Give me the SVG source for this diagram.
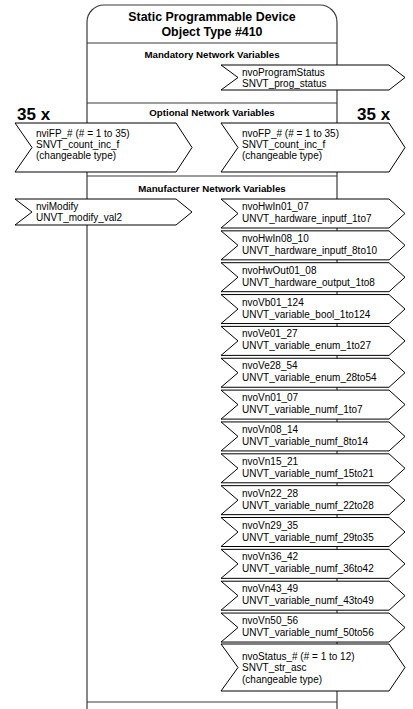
<svg xmlns="http://www.w3.org/2000/svg" width="413" height="709" viewBox="0 0 413 709">
<style>
.frame{fill:none;stroke:#3a3a3a;stroke-width:1.2}
.nv{fill:#fff;stroke:#000;stroke-width:1}
.t{font-family:"Liberation Sans",Arial,sans-serif;font-size:10px;fill:#000}
.h{font-family:"Liberation Sans",Arial,sans-serif;font-size:9.7px;font-weight:bold;fill:#000;text-anchor:middle}
.title{font-family:"Liberation Sans",Arial,sans-serif;font-size:12.4px;font-weight:bold;fill:#000;text-anchor:middle}
.big{font-family:"Liberation Sans",Arial,sans-serif;font-size:17px;font-weight:bold;fill:#000}
</style>
<g id="object-frame">
<path class="frame" d="M87,709 V22 A17,17 0 0 1 104,5 H320 A17,17 0 0 1 337,22 V709"/>
<line class="frame" x1="87" y1="43" x2="337" y2="43"/>
<line class="frame" x1="87" y1="103" x2="337" y2="103"/>
<line class="frame" x1="87" y1="176" x2="337" y2="176"/>
<line class="frame" x1="87" y1="702" x2="337" y2="702"/>
<text class="title" x="212" y="20.5">Static Programmable Device</text>
<text class="title" x="212" y="36">Object Type #410</text>
<text class="h" x="212" y="57.5">Mandatory Network Variables</text>
<text class="h" x="212" y="116">Optional Network Variables</text>
<text class="h" x="212" y="192">Manufacturer Network Variables</text>
<text class="big" x="17" y="120">35 x</text>
<text class="big" x="357" y="120">35 x</text>
</g>
<g id="connectors"></g>
<g id="nvoProgramStatus"><polygon class="nv" points="221,65 389,65 405,77.5 389,90 221,90 238,77.5"/><text class="t" x="242" y="75.5">nvoProgramStatus</text><text class="t" x="242" y="87">SNVT_prog_status</text></g>
<g id="nviFP"><polygon class="nv" points="15,123 176,123 192,147.5 176,172 15,172 32,147.5"/><text class="t" x="36" y="137">nviFP_# (# = 1 to 35)</text><text class="t" x="36" y="148">SNVT_count_inc_f</text><text class="t" x="36" y="159">(changeable type)</text></g>
<g id="nvoFP"><polygon class="nv" points="221,123 389,123 405,147.5 389,172 221,172 238,147.5"/><text class="t" x="242" y="137">nvoFP_# (# = 1 to 35)</text><text class="t" x="242" y="148">SNVT_count_inc_f</text><text class="t" x="242" y="159">(changeable type)</text></g>
<g id="nviModify"><polygon class="nv" points="15,199 176,199 192,212 176,225 15,225 32,212"/><text class="t" x="36" y="209.5">nviModify</text><text class="t" x="36" y="221">UNVT_modify_val2</text></g>
<g id="nvoHwIn01_07"><polygon class="nv" points="221,199 389,199 405,213.5 389,228 221,228 238,213.5"/><text class="t" x="242" y="210">nvoHwIn01_07</text><text class="t" x="242" y="222">UNVT_hardware_inputf_1to7</text></g>
<g id="nvoHwIn08_10"><polygon class="nv" points="221,230.85 389,230.85 405,245.35 389,259.85 221,259.85 238,245.35"/><text class="t" x="242" y="241.85">nvoHwIn08_10</text><text class="t" x="242" y="253.85">UNVT_hardware_inputf_8to10</text></g>
<g id="nvoHwOut01_08"><polygon class="nv" points="221,262.7 389,262.7 405,277.2 389,291.7 221,291.7 238,277.2"/><text class="t" x="242" y="273.7">nvoHwOut01_08</text><text class="t" x="242" y="285.7">UNVT_hardware_output_1to8</text></g>
<g id="nvoVb01_124"><polygon class="nv" points="221,294.55 389,294.55 405,309.05 389,323.55 221,323.55 238,309.05"/><text class="t" x="242" y="305.55">nvoVb01_124</text><text class="t" x="242" y="317.55">UNVT_variable_bool_1to124</text></g>
<g id="nvoVe01_27"><polygon class="nv" points="221,326.4 389,326.4 405,340.9 389,355.4 221,355.4 238,340.9"/><text class="t" x="242" y="337.4">nvoVe01_27</text><text class="t" x="242" y="349.4">UNVT_variable_enum_1to27</text></g>
<g id="nvoVe28_54"><polygon class="nv" points="221,358.25 389,358.25 405,372.75 389,387.25 221,387.25 238,372.75"/><text class="t" x="242" y="369.25">nvoVe28_54</text><text class="t" x="242" y="381.25">UNVT_variable_enum_28to54</text></g>
<g id="nvoVn01_07"><polygon class="nv" points="221,390.1 389,390.1 405,404.6 389,419.1 221,419.1 238,404.6"/><text class="t" x="242" y="401.1">nvoVn01_07</text><text class="t" x="242" y="413.1">UNVT_variable_numf_1to7</text></g>
<g id="nvoVn08_14"><polygon class="nv" points="221,421.95 389,421.95 405,436.45 389,450.95 221,450.95 238,436.45"/><text class="t" x="242" y="432.95">nvoVn08_14</text><text class="t" x="242" y="444.95">UNVT_variable_numf_8to14</text></g>
<g id="nvoVn15_21"><polygon class="nv" points="221,453.8 389,453.8 405,468.3 389,482.8 221,482.8 238,468.3"/><text class="t" x="242" y="464.8">nvoVn15_21</text><text class="t" x="242" y="476.8">UNVT_variable_numf_15to21</text></g>
<g id="nvoVn22_28"><polygon class="nv" points="221,485.65 389,485.65 405,500.15 389,514.65 221,514.65 238,500.15"/><text class="t" x="242" y="496.65">nvoVn22_28</text><text class="t" x="242" y="508.65">UNVT_variable_numf_22to28</text></g>
<g id="nvoVn29_35"><polygon class="nv" points="221,517.5 389,517.5 405,532 389,546.5 221,546.5 238,532"/><text class="t" x="242" y="528.5">nvoVn29_35</text><text class="t" x="242" y="540.5">UNVT_variable_numf_29to35</text></g>
<g id="nvoVn36_42"><polygon class="nv" points="221,549.35 389,549.35 405,563.85 389,578.35 221,578.35 238,563.85"/><text class="t" x="242" y="560.35">nvoVn36_42</text><text class="t" x="242" y="572.35">UNVT_variable_numf_36to42</text></g>
<g id="nvoVn43_49"><polygon class="nv" points="221,581.2 389,581.2 405,595.7 389,610.2 221,610.2 238,595.7"/><text class="t" x="242" y="592.2">nvoVn43_49</text><text class="t" x="242" y="604.2">UNVT_variable_numf_43to49</text></g>
<g id="nvoVn50_56"><polygon class="nv" points="221,613.05 389,613.05 405,627.55 389,642.05 221,642.05 238,627.55"/><text class="t" x="242" y="624.05">nvoVn50_56</text><text class="t" x="242" y="636.05">UNVT_variable_numf_50to56</text></g>
<g id="nvoStatus"><polygon class="nv" points="221,644 389,644 405,667.5 389,691 221,691 238,667.5"/><text class="t" x="242" y="659.5">nvoStatus_# (# = 1 to 12)</text><text class="t" x="242" y="671">SNVT_str_asc</text><text class="t" x="242" y="682.5">(changeable type)</text></g>
</svg>
